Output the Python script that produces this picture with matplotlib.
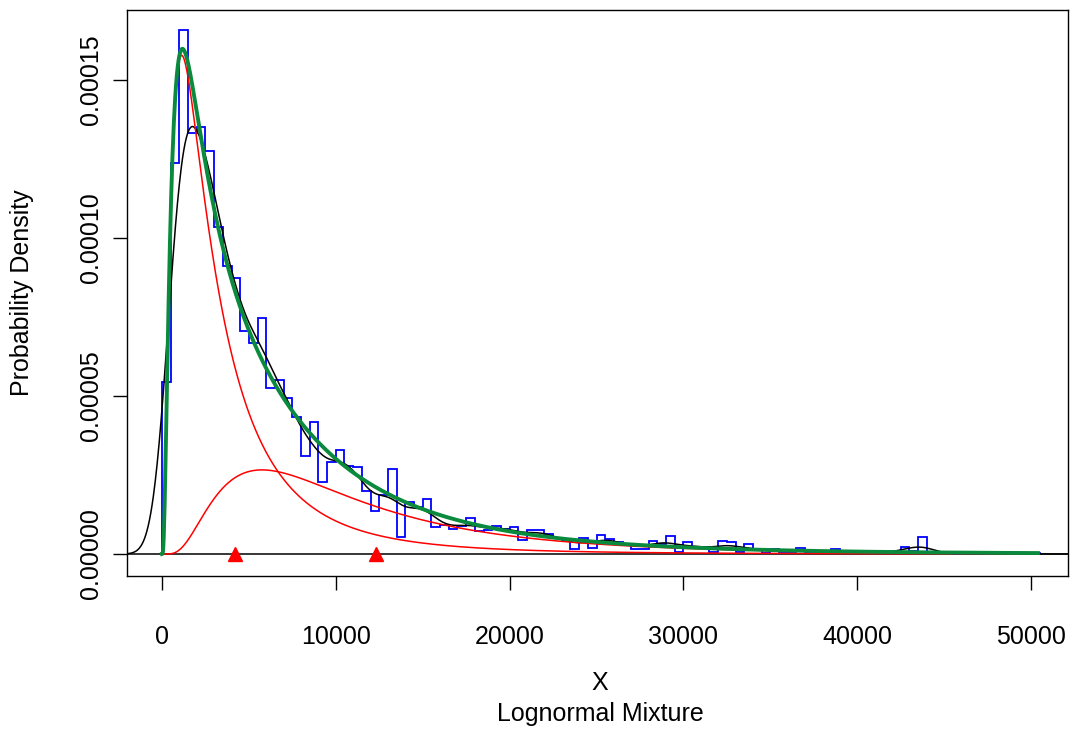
import numpy as np
import matplotlib
matplotlib.use("Agg")
import matplotlib.pyplot as plt

# ---- data ----
bin_width = 500
hist_density_e5 = [
    5.43, 12.38, 16.58, 13.33, 13.52, 12.75, 10.36, 9.12, 8.72, 7.06,
    6.67, 7.46, 5.24, 5.51, 4.95, 4.34, 3.10, 4.19, 2.29, 2.92,
    3.29, 2.78, 2.74, 1.99, 1.37, 1.87, 2.68, 0.55, 1.66, 1.50,
    1.73, 0.86, 0.92, 0.79, 0.89, 1.13, 0.73, 0.75, 0.90, 0.80,
    0.86, 0.44, 0.76, 0.76, 0.63, 0.50, 0.45, 0.16, 0.50, 0.20,
    0.60, 0.47, 0.39, 0.30, 0.16, 0.16, 0.42, 0.31, 0.58, 0.05,
    0.37, 0.23, 0.23, 0.05, 0.42, 0.37, 0.05, 0.31, 0.15, 0.02,
    0.15, 0.07, 0.07, 0.20, 0.07, 0.07, 0.05, 0.15, 0.05, 0.03,
    0.05, 0.03, 0.05, 0.03, 0.05, 0.23, 0.10, 0.53, 0.05, 0.02,
    0.02, 0.00, 0.02, 0.00, 0.00, 0.02, 0.00, 0.00, 0.00, 0.00,
    0.02,
]
comp_weight = [0.648, 0.352]
comp_mean = [4200.0, 12300.0]      # component means (triangles)
comp_sdlog = [0.935, 0.712]        # lognormal shape parameters
data_max = 50400.0
kde_bw = 700.0

x_ticks = [0, 10000, 20000, 30000, 40000, 50000]
y_ticks = [0.0, 0.00005, 0.00010, 0.00015]
y_tick_labels = ["0.00000", "0.00005", "0.00010", "0.00015"]

# ---- derived ----
hist_vals = np.array(hist_density_e5) * 1e-5
edges = np.arange(len(hist_vals) + 1) * bin_width
centers = (edges[:-1] + edges[1:]) / 2


def lnorm_pdf(x, mean, sdlog):
    mulog = np.log(mean) - sdlog ** 2 / 2
    out = np.zeros_like(x)
    pos = x > 0
    out[pos] = np.exp(-(np.log(x[pos]) - mulog) ** 2 / (2 * sdlog ** 2)) / (
        x[pos] * sdlog * np.sqrt(2 * np.pi))
    return out


xs = np.linspace(0, data_max, 2000)
comps = [w * lnorm_pdf(xs, m, s) for w, m, s in zip(comp_weight, comp_mean, comp_sdlog)]
mix = comps[0] + comps[1]

xk = np.linspace(-3 * kde_bw, data_max + 3 * kde_bw, 1500)
wts = hist_vals * bin_width
kde = np.zeros_like(xk)
for c, w in zip(centers, wts):
    kde += w * np.exp(-0.5 * ((xk - c) / kde_bw) ** 2) / (kde_bw * np.sqrt(2 * np.pi))

# ---- plot ----
plt.rcParams['font.family'] = ['Liberation Sans', 'DejaVu Sans']
fig = plt.figure(figsize=(10.75, 7.33), dpi=100)
ax = fig.add_axes([127 / 1075, (733 - 576) / 733, (1068 - 127) / 1075, (576 - 10) / 733])

ax.axhline(0, color='black', lw=1.1, zorder=1)
ax.stairs(hist_vals, edges, color='blue', lw=1.3, baseline=0, zorder=2)
ax.plot(xk, kde, color='black', lw=1.1, zorder=3)
for c in comps:
    ax.plot(xs, c, color='red', lw=1.1, zorder=3)
ax.plot(xs, mix, color='#0a8a3c', lw=2.8, zorder=4)
ax.plot(comp_mean, [0, 0], linestyle='none', marker='^', color='red',
        markersize=10, clip_on=False, zorder=5)

ax.set_xlim(-2014, 52129)
ax.set_ylim(-6.96e-6, 1.7215e-4)
ax.set_xticks(x_ticks)
ax.set_xticklabels([str(t) for t in x_ticks])
ax.set_yticks(y_ticks)
ax.set_yticklabels(y_tick_labels, rotation=90, va='center')
ax.tick_params(axis='both', labelsize=18, length=10, width=1, direction='out', color='black')
ax.tick_params(axis='x', pad=25)
ax.tick_params(axis='y', pad=7)
for s in ax.spines.values():
    s.set_linewidth(1)

fig.text(600 / 1075, 1 - 683 / 733, "X", fontsize=18, ha='center', va='center')
fig.text(600 / 1075, 1 - 714 / 733, "Lognormal Mixture", fontsize=18, ha='center', va='center')
fig.text(22 / 1075, 1 - 293 / 733, "Probability Density", fontsize=18, ha='center',
         va='center', rotation=90)

fig.savefig("out.png", dpi=100)
